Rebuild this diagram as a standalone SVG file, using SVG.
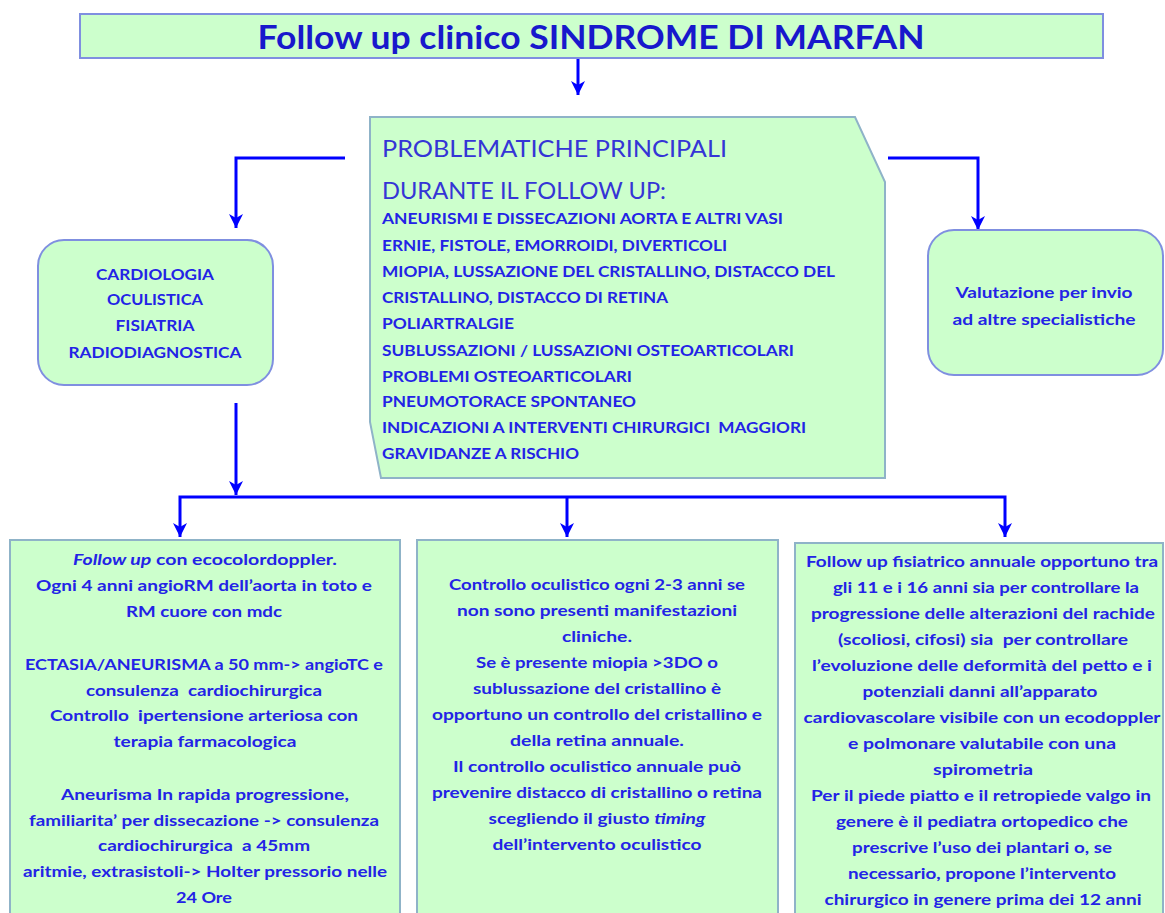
<svg xmlns="http://www.w3.org/2000/svg" width="1165" height="913" viewBox="0 0 1165 913">
<defs>
<style>
.box{fill:#ccffcc;stroke:#7f8fe0;stroke-width:2}
.boxg{fill:#ccffcc;stroke:#8fb3c8;stroke-width:2}
.t{font-family:Lato,"Open Sans","Liberation Sans",sans-serif;font-weight:bold;font-size:15px;fill:#2323e6}
.c{text-anchor:middle}
.h{font-family:Lato,"Open Sans","Liberation Sans",sans-serif;font-size:24px;fill:#3535d6}
.title{font-family:Lato,"Open Sans","Liberation Sans",sans-serif;font-weight:bold;font-size:32px;fill:#1818cc;text-anchor:middle}
.conn{fill:none;stroke:#0000ff;stroke-width:3}
</style>
<marker id="ah" markerWidth="16" markerHeight="16" refX="14" refY="8" orient="auto-start-reverse" markerUnits="userSpaceOnUse" viewBox="0 0 16 16">
<path d="M0,1 L14,8 L0,15 L4,8 Z" fill="#0000ff"/>
</marker>
</defs>

<g id="connectors">
<path class="conn" d="M578,58 V95" marker-end="url(#ah)"/>
<path class="conn" d="M345,158 H236 V228" marker-end="url(#ah)"/>
<path class="conn" d="M888,158 H978 V230" marker-end="url(#ah)"/>
<path class="conn" d="M236,403 V495" marker-end="url(#ah)"/>
<path class="conn" d="M180,537 V497 H1005 V537" marker-end="url(#ah)" marker-start="url(#ah)"/>
<path class="conn" d="M567,497 V537" marker-end="url(#ah)"/>
</g>

<g id="title">
<rect class="box" x="80" y="14" width="1023" height="44"/>
<text class="title" x="591" y="49" textLength="667" lengthAdjust="spacingAndGlyphs">Follow up clinico SINDROME DI MARFAN</text>
</g>

<g id="problematiche">
<path class="boxg" d="M370,117 H855 L885,182 V478 H381 L370,422 Z"/>
<text class="h" x="382" y="157" textLength="345" lengthAdjust="spacingAndGlyphs">PROBLEMATICHE PRINCIPALI</text>
<text class="h" x="382" y="199" textLength="284" lengthAdjust="spacingAndGlyphs">DURANTE IL FOLLOW UP:</text>
<text class="t" x="382" y="224" textLength="401" lengthAdjust="spacingAndGlyphs">ANEURISMI E DISSECAZIONI AORTA E ALTRI VASI</text>
<text class="t" x="382" y="251" textLength="345" lengthAdjust="spacingAndGlyphs">ERNIE, FISTOLE, EMORROIDI, DIVERTICOLI</text>
<text class="t" x="382" y="277" textLength="453" lengthAdjust="spacingAndGlyphs">MIOPIA, LUSSAZIONE DEL CRISTALLINO, DISTACCO DEL</text>
<text class="t" x="382" y="303" textLength="286" lengthAdjust="spacingAndGlyphs">CRISTALLINO, DISTACCO DI RETINA</text>
<text class="t" x="382" y="329" textLength="132" lengthAdjust="spacingAndGlyphs">POLIARTRALGIE</text>
<text class="t" x="382" y="356" textLength="412" lengthAdjust="spacingAndGlyphs">SUBLUSSAZIONI / LUSSAZIONI OSTEOARTICOLARI</text>
<text class="t" x="382" y="382" textLength="250" lengthAdjust="spacingAndGlyphs">PROBLEMI OSTEOARTICOLARI</text>
<text class="t" x="382" y="407" textLength="254" lengthAdjust="spacingAndGlyphs">PNEUMOTORACE SPONTANEO</text>
<text class="t" x="382" y="433" textLength="424" lengthAdjust="spacingAndGlyphs" xml:space="preserve">INDICAZIONI A INTERVENTI CHIRURGICI  MAGGIORI</text>
<text class="t" x="382" y="459" textLength="197" lengthAdjust="spacingAndGlyphs">GRAVIDANZE A RISCHIO</text>
</g>

<g id="specialita">
<rect class="box" x="38" y="240" width="235" height="145" rx="26"/>
<text class="t c" x="155" y="280" textLength="118" lengthAdjust="spacingAndGlyphs">CARDIOLOGIA</text>
<text class="t c" x="155" y="305" textLength="96" lengthAdjust="spacingAndGlyphs">OCULISTICA</text>
<text class="t c" x="155" y="331" textLength="79" lengthAdjust="spacingAndGlyphs">FISIATRIA</text>
<text class="t c" x="155" y="358" textLength="173" lengthAdjust="spacingAndGlyphs">RADIODIAGNOSTICA</text>
</g>

<g id="valutazione">
<rect class="box" x="928" y="230" width="235" height="145" rx="26"/>
<text class="t c" x="1044" y="298" textLength="177" lengthAdjust="spacingAndGlyphs">Valutazione per invio</text>
<text class="t c" x="1044" y="325" textLength="183" lengthAdjust="spacingAndGlyphs">ad altre specialistiche</text>
</g>

<g id="cardiologia">
<rect class="boxg" x="10" y="540" width="390" height="385"/>
<text class="t c" x="205" y="565" textLength="264" lengthAdjust="spacingAndGlyphs"><tspan font-style="italic">Follow up</tspan> con ecocolordoppler.</text>
<text class="t c" x="204" y="591" textLength="336" lengthAdjust="spacingAndGlyphs">Ogni 4 anni angioRM dell’aorta in toto e</text>
<text class="t c" x="204" y="617" textLength="156" lengthAdjust="spacingAndGlyphs">RM cuore con mdc</text>
<text class="t c" x="204" y="670" textLength="358" lengthAdjust="spacingAndGlyphs">ECTASIA/ANEURISMA a 50 mm-&gt; angioTC e</text>
<text class="t c" x="204" y="696" textLength="236" lengthAdjust="spacingAndGlyphs" xml:space="preserve">consulenza  cardiochirurgica</text>
<text class="t c" x="204" y="721" textLength="308" lengthAdjust="spacingAndGlyphs" xml:space="preserve">Controllo  ipertensione arteriosa con</text>
<text class="t c" x="205" y="747" textLength="183" lengthAdjust="spacingAndGlyphs">terapia farmacologica</text>
<text class="t c" x="205" y="800" textLength="288" lengthAdjust="spacingAndGlyphs">Aneurisma In rapida progressione,</text>
<text class="t c" x="204" y="826" textLength="350" lengthAdjust="spacingAndGlyphs">familiarita’ per dissecazione -&gt; consulenza</text>
<text class="t c" x="204" y="851" textLength="212" lengthAdjust="spacingAndGlyphs" xml:space="preserve">cardiochirurgica  a 45mm</text>
<text class="t c" x="205" y="877" textLength="364" lengthAdjust="spacingAndGlyphs">aritmie, extrasistoli-&gt; Holter pressorio nelle</text>
<text class="t c" x="204" y="903" textLength="56" lengthAdjust="spacingAndGlyphs">24 Ore</text>
</g>

<g id="oculistica">
<rect class="boxg" x="417" y="540" width="361" height="385"/>
<text class="t c" x="597" y="590" textLength="296" lengthAdjust="spacingAndGlyphs">Controllo oculistico ogni 2-3 anni se</text>
<text class="t c" x="597" y="616" textLength="280" lengthAdjust="spacingAndGlyphs">non sono presenti manifestazioni</text>
<text class="t c" x="597" y="642" textLength="70" lengthAdjust="spacingAndGlyphs">cliniche.</text>
<text class="t c" x="597" y="668" textLength="242" lengthAdjust="spacingAndGlyphs">Se è presente miopia &gt;3DO o</text>
<text class="t c" x="597" y="694" textLength="248" lengthAdjust="spacingAndGlyphs">sublussazione del cristallino è</text>
<text class="t c" x="597" y="720" textLength="330" lengthAdjust="spacingAndGlyphs">opportuno un controllo del cristallino e</text>
<text class="t c" x="597" y="746" textLength="174" lengthAdjust="spacingAndGlyphs">della retina annuale.</text>
<text class="t c" x="597" y="772" textLength="288" lengthAdjust="spacingAndGlyphs">Il controllo oculistico annuale può</text>
<text class="t c" x="597" y="798" textLength="330" lengthAdjust="spacingAndGlyphs">prevenire distacco di cristallino o retina</text>
<text class="t c" x="597" y="824" textLength="217" lengthAdjust="spacingAndGlyphs">scegliendo il giusto <tspan font-style="italic">timing</tspan></text>
<text class="t c" x="597" y="850" textLength="209" lengthAdjust="spacingAndGlyphs">dell’intervento oculistico</text>
</g>

<g id="fisiatria">
<rect class="boxg" x="795" y="543" width="368" height="385"/>
<text class="t c" x="982" y="567" textLength="352" lengthAdjust="spacingAndGlyphs">Follow up fisiatrico annuale opportuno tra</text>
<text class="t c" x="986" y="593" textLength="306" lengthAdjust="spacingAndGlyphs">gli 11 e i 16 anni sia per controllare la</text>
<text class="t c" x="983" y="619" textLength="344" lengthAdjust="spacingAndGlyphs">progressione delle alterazioni del rachide</text>
<text class="t c" x="983" y="645" textLength="290" lengthAdjust="spacingAndGlyphs" xml:space="preserve">(scoliosi, cifosi) sia  per controllare</text>
<text class="t c" x="982" y="671" textLength="340" lengthAdjust="spacingAndGlyphs">l’evoluzione delle deformità del petto e i</text>
<text class="t c" x="980" y="697" textLength="235" lengthAdjust="spacingAndGlyphs">potenziali danni all’apparato</text>
<text class="t c" x="982" y="723" textLength="357" lengthAdjust="spacingAndGlyphs">cardiovascolare visibile con un ecodoppler</text>
<text class="t c" x="982" y="749" textLength="268" lengthAdjust="spacingAndGlyphs">e polmonare valutabile con una</text>
<text class="t c" x="983" y="775" textLength="100" lengthAdjust="spacingAndGlyphs">spirometria</text>
<text class="t c" x="981" y="801" textLength="340" lengthAdjust="spacingAndGlyphs">Per il piede piatto e il retropiede valgo in</text>
<text class="t c" x="982" y="827" textLength="292" lengthAdjust="spacingAndGlyphs">genere è il pediatra ortopedico che</text>
<text class="t c" x="982" y="853" textLength="260" lengthAdjust="spacingAndGlyphs">prescrive l’uso dei plantari o, se</text>
<text class="t c" x="982" y="879" textLength="268" lengthAdjust="spacingAndGlyphs">necessario, propone l’intervento</text>
<text class="t c" x="983" y="905" textLength="317" lengthAdjust="spacingAndGlyphs">chirurgico in genere prima dei 12 anni</text>
</g>
</svg>
